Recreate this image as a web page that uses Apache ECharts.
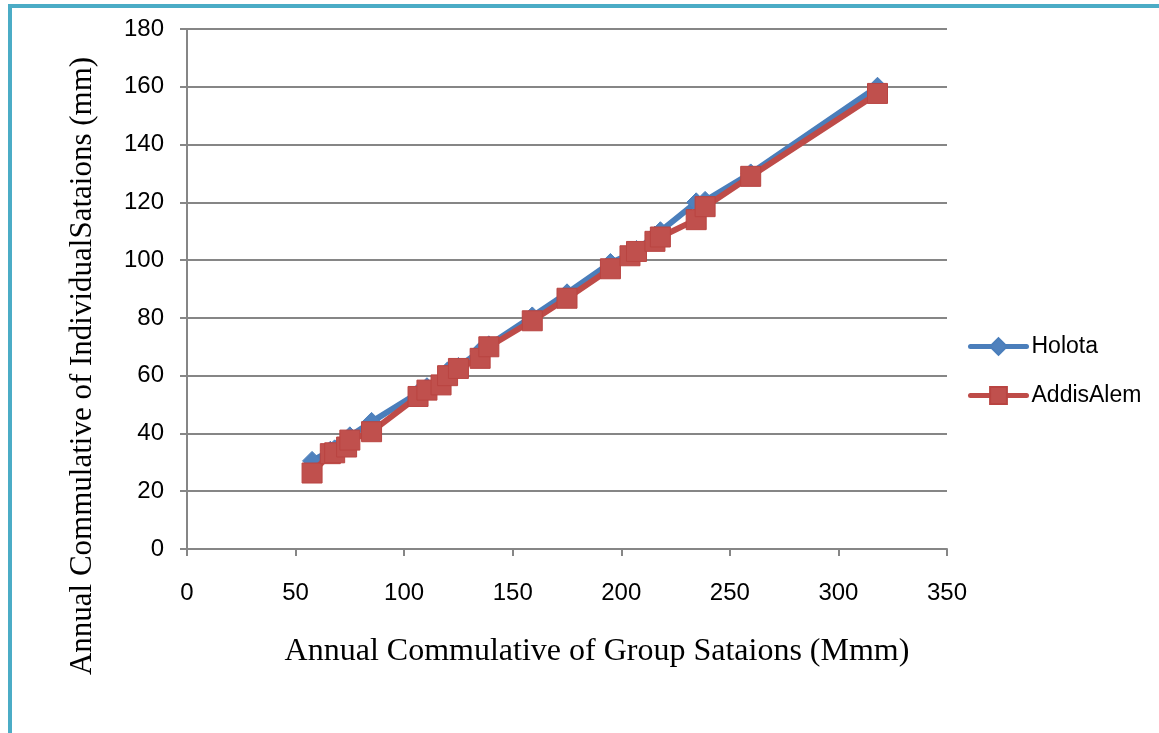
<!DOCTYPE html>
<html>
<head>
<meta charset="utf-8">
<title>Annual Cumulative Rainfall - Double Mass Curve</title>
<script src="https://cdn.jsdelivr.net/npm/echarts@6/dist/echarts.min.js"></script>
<style>
  html, body { margin: 0; padding: 0; background: #ffffff; }
  #chart { width: 1159px; height: 733px; }
</style>
</head>
<body>
<div id="chart"></div>
<script>
// Annual cumulative of the group stations (x) and of each individual station (y)
const groupCumulative = [57.6, 66, 68, 73.5, 75, 85, 106.4, 110.5, 117, 120, 125, 135, 139, 159, 175, 195, 204, 207, 215.5, 218, 234.5, 238.6, 259.6, 318];
const holota          = [30.5, 34, 34.5, 37.5, 39, 44, 54, 56, 58, 61.5, 63, 68.5, 70.5, 80.5, 88.5, 99, 102, 103.5, 108.5, 110, 120, 120.5, 130, 160];
const addisAlem       = [26.3, 33, 33.3, 35.3, 37.7, 40.6, 52.8, 55, 56.8, 60, 62.5, 66, 70, 79, 86.8, 97, 101.5, 103, 106.5, 108, 114, 118.5, 129, 157.7];

const seriesNames = ['Holota', 'AddisAlem'];
const xTitle = 'Annual Commulative of Group Sataions (Mmm)';
const yTitle = 'Annual Commulative of IndividualSataions (mm)';

const pairs = (xs, ys) => xs.map((x, i) => [x, ys[i]]);

const chart = echarts.init(document.getElementById('chart'), null, { renderer: 'canvas' });

const tickFont = { fontFamily: 'Liberation Sans', fontSize: 24, color: '#000000' };
const axisGray = '#868686';

chart.setOption({
  animation: false,
  backgroundColor: '#ffffff',
  grid: { left: 187, right: 212, top: 29, bottom: 184 },
  legend: {
    orient: 'vertical',
    left: 963,
    top: 330,
    itemWidth: 56,
    itemHeight: 21,
    itemGap: 26,
    lineStyle: { width: 5, cap: 'round' },
    textStyle: { fontFamily: 'Liberation Sans', fontSize: 23, color: '#000000' },
    data: seriesNames
  },
  xAxis: {
    type: 'value',
    min: 0, max: 350, interval: 50,
    axisLine: { show: true, lineStyle: { color: axisGray, width: 2 } },
    axisTick: { show: true, length: 7, lineStyle: { color: axisGray, width: 2 } },
    axisLabel: Object.assign({ margin: 32 }, tickFont),
    splitLine: { show: false }
  },
  yAxis: {
    type: 'value',
    min: 0, max: 180, interval: 20,
    axisLine: { show: true, lineStyle: { color: axisGray, width: 2 } },
    axisTick: { show: true, length: 7, lineStyle: { color: axisGray, width: 2 } },
    axisLabel: Object.assign({ margin: 23 }, tickFont),
    splitLine: { show: true, lineStyle: { color: axisGray, width: 2 } }
  },
  series: [
    {
      name: seriesNames[0],
      type: 'line',
      data: pairs(groupCumulative, holota),
      symbol: 'diamond',
      symbolSize: 19,
      lineStyle: { color: '#4a7ebb', width: 6, cap: 'round', join: 'round' },
      itemStyle: { color: '#4f81bd', borderColor: '#4a7ebb', borderWidth: 1 },
      z: 2
    },
    {
      name: seriesNames[1],
      type: 'line',
      data: pairs(groupCumulative, addisAlem),
      symbol: 'rect',
      symbolSize: 20,
      lineStyle: { color: '#be4b48', width: 6, cap: 'round', join: 'round' },
      itemStyle: { color: '#c0504d', borderColor: '#b94441', borderWidth: 1 },
      z: 3
    }
  ],
  graphic: [
    // frame edges
    { type: 'rect', shape: { x: 8, y: 4, width: 1151, height: 4 }, style: { fill: '#4bacc6' }, silent: true },
    { type: 'rect', shape: { x: 8, y: 4, width: 4, height: 729 }, style: { fill: '#4bacc6' }, silent: true },
    // axis titles
    {
      type: 'text',
      x: 597, y: 652,
      style: {
        text: xTitle,
        font: '32px "Liberation Serif"',
        fill: '#000000',
        align: 'center',
        verticalAlign: 'middle'
      }
    },
    {
      type: 'text',
      x: 83, y: 366,
      rotation: Math.PI / 2,
      style: {
        text: yTitle,
        font: '31px "Liberation Serif"',
        fill: '#000000',
        align: 'center',
        verticalAlign: 'middle'
      }
    }
  ]
});
</script>
</body>
</html>
